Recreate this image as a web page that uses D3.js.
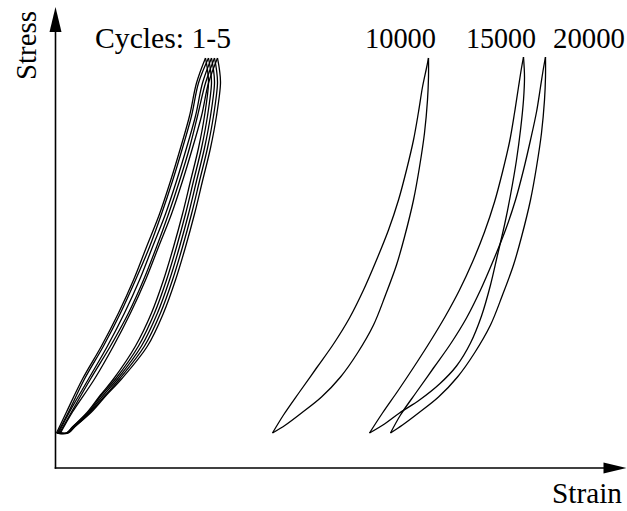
<!DOCTYPE html>
<html>
<head>
<meta charset="utf-8">
<script src="https://cdn.jsdelivr.net/npm/d3@7"></script>
<style>
  html, body { margin: 0; padding: 0; background: #ffffff; }
  svg { display: block; }
</style>
</head>
<body>
<svg id="chart" width="627" height="511"></svg>
<script>
// ---------- data (strain / stress in arbitrary units) ----------
const axisLabels = ["Strain", "Stress"];
const loopLabels = ["Cycles: 1-5", "10000", "15000", "20000"];

// cycles 1-5: shared stress levels for loading (up) and unloading (down) branches
const stressUp   = [35, 56, 89, 122, 155, 188, 221, 254, 287, 320, 352, 385, 410];
const stressDown = [410, 398, 385, 352, 320, 287, 254, 221, 188, 155, 122, 89, 73, 56, 41, 35];

const cycle1Up   = [1, 11, 27, 46, 63, 78, 91, 104, 115, 125, 134, 141, 150];
const cycle1Down = [150, 152, 153, 149, 143, 135, 127, 118, 108, 96, 80, 58, 45, 32, 17, 11];
const cycle2Up   = [2, 13, 29, 48, 65, 80, 94, 106, 117, 127, 136, 143, 153];
const cycle2Down = [153, 155, 156, 152, 146, 138, 130, 121, 111, 99, 83, 60, 46, 33, 17, 11];
const cycle3Up   = [3, 14, 33, 52, 69, 84, 97, 110, 121, 131, 140, 147, 156];
const cycle3Down = [156, 158, 159, 155, 149, 141, 133, 124, 114, 102, 86, 62, 48, 34, 18, 12];
const cycle4Up   = [4, 16, 35, 55, 73, 88, 101, 113, 124, 134, 142, 150, 159];
const cycle4Down = [159, 161, 162, 158, 152, 144, 136, 127, 117, 105, 89, 64, 50, 35, 19, 12];
const cycle5Up   = [5, 17, 39, 58, 75, 90, 103, 116, 127, 137, 146, 153, 162];
const cycle5Down = [162, 164, 165, 161, 155, 147, 139, 130, 120, 108, 92, 66, 51, 36, 19, 13];

// later cycles: [strain, stress] points
const c10000Up = [[217,35],[228,53],[244,76],[261,100],[278,124],[294,150],[308,178],[321,208],[333,238],[343,268],[351,298],[358,328],[363,356],[367,381],[371,400],[373,410]];
const c10000Down = [[373,410],[373,391],[372,368],[369,335],[364,301],[358,268],[349,231],[341,203],[330,173],[318,143],[302,115],[285,91],[266,71],[246,55],[230,43],[217,35]];

const c15000Up = [[314,35],[327,55],[343,78],[359,102],[375,127],[390,152],[404,178],[417,206],[429,236],[439,266],[447,296],[454,326],[459,355],[463,381],[466,400],[468,411]];
const c15000Down = [[468,411],[469,391],[468,368],[465,338],[461,308],[455,273],[449,243],[442,213],[435,183],[426,152],[415,125],[401,102],[384,84],[364,68],[344,55],[329,44],[314,35]];

const c20000Up = [[335,35],[345,53],[361,76],[378,100],[395,124],[411,150],[425,178],[438,208],[450,238],[460,268],[468,298],[475,328],[481,356],[485,381],[488,400],[490,411]];
const c20000Down = [[490,411],[490,391],[489,368],[486,335],[481,301],[475,268],[466,231],[458,203],[447,173],[435,143],[419,115],[402,91],[383,71],[363,55],[347,43],[335,35]];

// ---------- drawing ----------
const FONT = "'Liberation Serif', 'Times New Roman', Times, serif";
const svg = d3.select("#chart");
const x = d3.scaleLinear().domain([0, 570]).range([55.5, 625.5]);
const y = d3.scaleLinear().domain([0, 460]).range([468, 8]);

const line = d3.line()
  .x(d => x(d[0]))
  .y(d => y(d[1]))
  .curve(d3.curveCatmullRom.alpha(0.5));

const zip = (xs, ys) => xs.map((v, i) => [v, ys[i]]);

const cycleBranches = [
  [cycle1Up, cycle1Down], [cycle2Up, cycle2Down], [cycle3Up, cycle3Down],
  [cycle4Up, cycle4Down], [cycle5Up, cycle5Down]
];

const branches = [];
cycleBranches.forEach(([u, d]) => {
  const up = zip(u, stressUp);
  const down = zip(d, stressDown);
  down.push(up[0]);                 // close at the bottom
  branches.push(up, down);
});
branches.push(c10000Up, c10000Down, c15000Up, c15000Down, c20000Up, c20000Down);

svg.append("g")
  .selectAll("path")
  .data(branches)
  .join("path")
  .attr("d", line)
  .attr("fill", "none")
  .attr("stroke", "#000")
  .attr("stroke-width", 1.3)
  .attr("stroke-linejoin", "round");

// axes with arrow heads
const x0 = x(0), y0 = y(0);
const xEnd = x.range()[1], yEnd = y.range()[1];
const axes = svg.append("g").attr("stroke", "#000").attr("stroke-width", 1.6);
axes.append("line").attr("x1", x0).attr("y1", y0 + 0.8).attr("x2", x0).attr("y2", yEnd + 22);
axes.append("line").attr("x1", x0 - 0.8).attr("y1", y0).attr("x2", xEnd - 20).attr("y2", y0);
svg.append("path")
  .attr("d", `M${x0},${yEnd - 1} L${x0 - 6},${yEnd + 24} L${x0 + 6},${yEnd + 24} Z`)
  .attr("fill", "#000");
svg.append("path")
  .attr("d", `M${xEnd + 1},${y0} L${xEnd - 22},${y0 - 5.5} L${xEnd - 22},${y0 + 5.5} Z`)
  .attr("fill", "#000");

// axis titles
svg.append("text")
  .attr("x", 552).attr("y", 503)
  .attr("font-family", FONT)
  .attr("font-size", 29)
  .attr("textLength", 70).attr("lengthAdjust", "spacingAndGlyphs")
  .text(axisLabels[0]);
svg.append("text")
  .attr("transform", "translate(36,80) rotate(-90)")
  .attr("font-family", FONT)
  .attr("font-size", 29)
  .attr("textLength", 69).attr("lengthAdjust", "spacingAndGlyphs")
  .text(axisLabels[1]);

// loop labels
const labelX = [95, 365, 466, 553];
const labelW = [136, 71, 70, 72];
svg.append("g")
  .selectAll("text")
  .data(loopLabels)
  .join("text")
  .attr("x", (d, i) => labelX[i])
  .attr("y", 48)
  .attr("font-family", FONT)
  .attr("font-size", 29)
  .attr("textLength", (d, i) => labelW[i])
  .attr("lengthAdjust", "spacingAndGlyphs")
  .attr("fill", "#000")
  .text(d => d);
</script>
</body>
</html>
